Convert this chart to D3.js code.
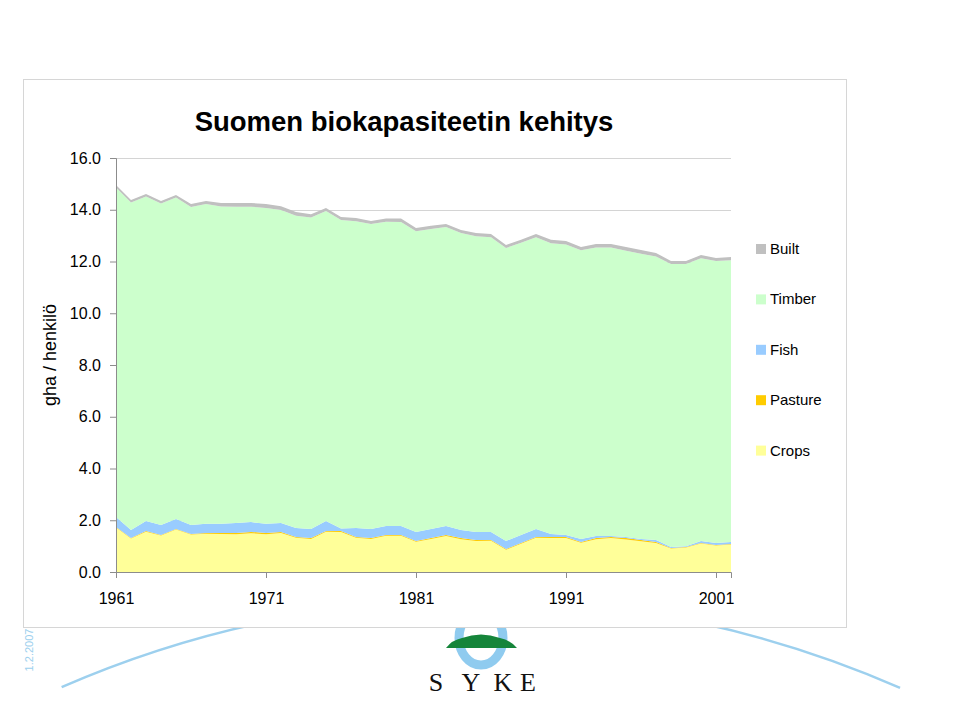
<!DOCTYPE html>
<html>
<head>
<meta charset="utf-8">
<script src="https://cdn.jsdelivr.net/npm/d3@7"></script>
<style>
  html, body { margin: 0; padding: 0; background: #fff; }
  svg { display: block; }
  text { font-family: "Liberation Sans", Arial, sans-serif; }
</style>
</head>
<body>
<svg id="chart" width="960" height="720"></svg>
<script>
// ---------------- data ----------------
const years = [1961,1962,1963,1964,1965,1966,1967,1968,1969,1970,
               1971,1972,1973,1974,1975,1976,1977,1978,1979,1980,
               1981,1982,1983,1984,1985,1986,1987,1988,1989,1990,
               1991,1992,1993,1994,1995,1996,1997,1998,1999,2000,
               2001,2002];
const crops   = [1.72,1.29,1.56,1.41,1.64,1.45,1.48,1.47,1.46,1.50,
                 1.46,1.51,1.32,1.28,1.56,1.55,1.32,1.28,1.40,1.40,
                 1.17,1.28,1.39,1.27,1.20,1.21,0.86,1.09,1.32,1.31,
                 1.31,1.13,1.27,1.31,1.26,1.19,1.12,0.91,0.95,1.10,
                 1.02,1.06];
const pasture = [0.02,0.02,0.02,0.02,0.02,0.02,0.03,0.04,0.05,0.05,
                 0.05,0.04,0.03,0.03,0.02,0.03,0.03,0.03,0.03,0.03,
                 0.03,0.03,0.04,0.04,0.04,0.03,0.03,0.03,0.03,0.04,
                 0.04,0.03,0.04,0.04,0.05,0.05,0.04,0.02,0.02,0.02,
                 0.02,0.02];
const fish    = [0.39,0.31,0.39,0.39,0.39,0.35,0.35,0.35,0.38,0.38,
                 0.35,0.34,0.35,0.35,0.39,0.10,0.35,0.35,0.35,0.35,
                 0.35,0.35,0.35,0.31,0.31,0.31,0.31,0.31,0.31,0.12,
                 0.08,0.12,0.08,0.04,0.04,0.04,0.08,0.04,0.03,0.08,
                 0.08,0.08];
const timber  = [12.73,12.66,12.54,12.42,12.42,12.29,12.36,12.27,12.23,12.19,
                 12.21,12.10,12.07,12.04,11.98,11.92,11.86,11.79,11.76,11.75,
                 11.62,11.60,11.55,11.48,11.43,11.39,11.32,11.29,11.28,11.24,
                 11.23,11.15,11.15,11.15,11.07,11.02,10.95,10.93,10.90,10.93,
                 10.90,10.89];
const built   = [0.10,0.10,0.10,0.10,0.10,0.11,0.12,0.13,0.14,0.14,
                 0.15,0.15,0.14,0.13,0.12,0.12,0.12,0.12,0.12,0.13,
                 0.12,0.12,0.12,0.12,0.12,0.12,0.12,0.12,0.12,0.13,
                 0.13,0.13,0.14,0.14,0.14,0.14,0.14,0.12,0.12,0.12,
                 0.12,0.12];
const yTicks = [0,2,4,6,8,10,12,14,16];
const xTicks = [1961,1971,1981,1991,2001];
const seriesKeys = ["Crops","Pasture","Fish","Timber","Built"];
const legendOrder = ["Built","Timber","Fish","Pasture","Crops"];
const colors = {Crops:"#ffff99", Pasture:"#ffcc00", Fish:"#99ccff", Timber:"#ccffcc", Built:"#c0c0c0"};
const titleText = "Suomen biokapasiteetin kehitys";
const yLabel = "gha / henkilö";
const dateText = "1.2.2007";

// ---------------- drawing ----------------
const svg = d3.select("#chart");

// background decoration (slide)
const arcColor = "#9dd0ee";
const cx0 = 480, cy0 = 1648, r0 = 1048;
function arcPath(a1, a2) {
  const p = d3.path();
  p.arc(cx0, cy0, r0, a1, a2, false);
  return p.toString();
}
const angL = Math.atan2(688 - cy0, 62 - cx0);
const angR = Math.atan2(688 - cy0, 900 - cx0);
svg.append("path").attr("d", arcPath(angL, angR))
  .attr("fill", "none").attr("stroke", arcColor).attr("stroke-width", 2.5);

// logo
svg.append("ellipse").attr("cx", 481).attr("cy", 638).attr("rx", 22).attr("ry", 27)
  .attr("fill", "none").attr("stroke", "#8fcbef").attr("stroke-width", 9);
svg.append("path")
  .attr("d", "M446,648 Q452,640 462,638 Q481,631 500,638 Q510,640 517,648 Z")
  .attr("fill", "#15853a");
const sykeLetters = [["S",436],["Y",471],["K",503],["E",528]];
svg.selectAll("text.syke").data(sykeLetters).join("text")
  .attr("class","syke")
  .attr("x", d => d[1]).attr("y", 691)
  .attr("text-anchor","middle")
  .style("font-family", "'Liberation Serif', 'DejaVu Serif', serif")
  .style("font-size", "26px").attr("fill", "#111")
  .text(d => d[0]);

svg.append("text")
  .attr("transform", "translate(33,650) rotate(-90)")
  .attr("text-anchor", "middle")
  .style("font-size", "11px").attr("fill", arcColor)
  .text(dateText);

// chart frame
svg.append("rect").attr("x", 23.5).attr("y", 79.5).attr("width", 823).attr("height", 548)
  .attr("fill", "#fff").attr("stroke", "#d6d6d6").attr("stroke-width", 1);

const x = d3.scaleLinear().domain([1961, 2002]).range([116, 731]);
const y = d3.scaleLinear().domain([0, 16]).range([572, 158]);

// gridlines
svg.append("g").selectAll("line").data(yTicks.filter(v => v > 0)).join("line")
  .attr("x1", 116).attr("x2", 731)
  .attr("y1", d => Math.round(y(d)) + 0.5).attr("y2", d => Math.round(y(d)) + 0.5)
  .attr("stroke", "#d4d4d4").attr("stroke-width", 1);

// stacked areas
const table = years.map((yr, i) => ({
  year: yr, Crops: crops[i], Pasture: pasture[i], Fish: fish[i], Timber: timber[i], Built: built[i]
}));
const stack = d3.stack().keys(seriesKeys);
const layers = stack(table);
const area = d3.area()
  .x(d => x(d.data.year))
  .y0(d => y(d[0]))
  .y1(d => y(d[1]));
svg.append("g").selectAll("path").data(layers).join("path")
  .attr("d", area)
  .attr("fill", d => colors[d.key]);

// y axis
const yAxis = d3.axisLeft(y).tickValues(yTicks).tickFormat(d3.format(".1f")).tickSize(6).tickPadding(9);
const gy = svg.append("g").attr("transform", "translate(116,0)").call(yAxis);
gy.select(".domain").attr("stroke", "#8c8c8c");
gy.selectAll(".tick line").attr("stroke", "#8c8c8c");
gy.selectAll("text").style("font-size", "16px").attr("fill", "#000")
  .style("font-family", "'Liberation Sans', Arial, sans-serif");

// x axis
const xAxis = d3.axisBottom(x).tickValues(xTicks).tickFormat(d3.format("d")).tickSize(6).tickPadding(15);
const gx = svg.append("g").attr("transform", "translate(0,572)").call(xAxis);
gx.select(".domain").attr("stroke", "#8c8c8c");
gx.selectAll(".tick line").attr("stroke", "#8c8c8c");
gx.selectAll("text").style("font-size", "16px").attr("fill", "#000")
  .style("font-family", "'Liberation Sans', Arial, sans-serif");

// title
svg.append("text").attr("x", 404).attr("y", 131).attr("text-anchor", "middle")
  .style("font-size", "27.5px").style("font-weight", "bold").attr("fill", "#000")
  .text(titleText);

// y label
svg.append("text")
  .attr("transform", "translate(56,355) rotate(-90)")
  .attr("text-anchor", "middle")
  .style("font-size", "18px").attr("fill", "#000")
  .text(yLabel);

// legend
const lg = svg.append("g").selectAll("g").data(legendOrder).join("g")
  .attr("transform", (d, i) => `translate(756,${244 + i * 50.4})`);
lg.append("rect").attr("width", 10).attr("height", 10).attr("fill", d => colors[d]);
lg.append("text").attr("x", 14).attr("y", 10).style("font-size", "15px").attr("fill", "#000")
  .text(d => d);
</script>
</body>
</html>
